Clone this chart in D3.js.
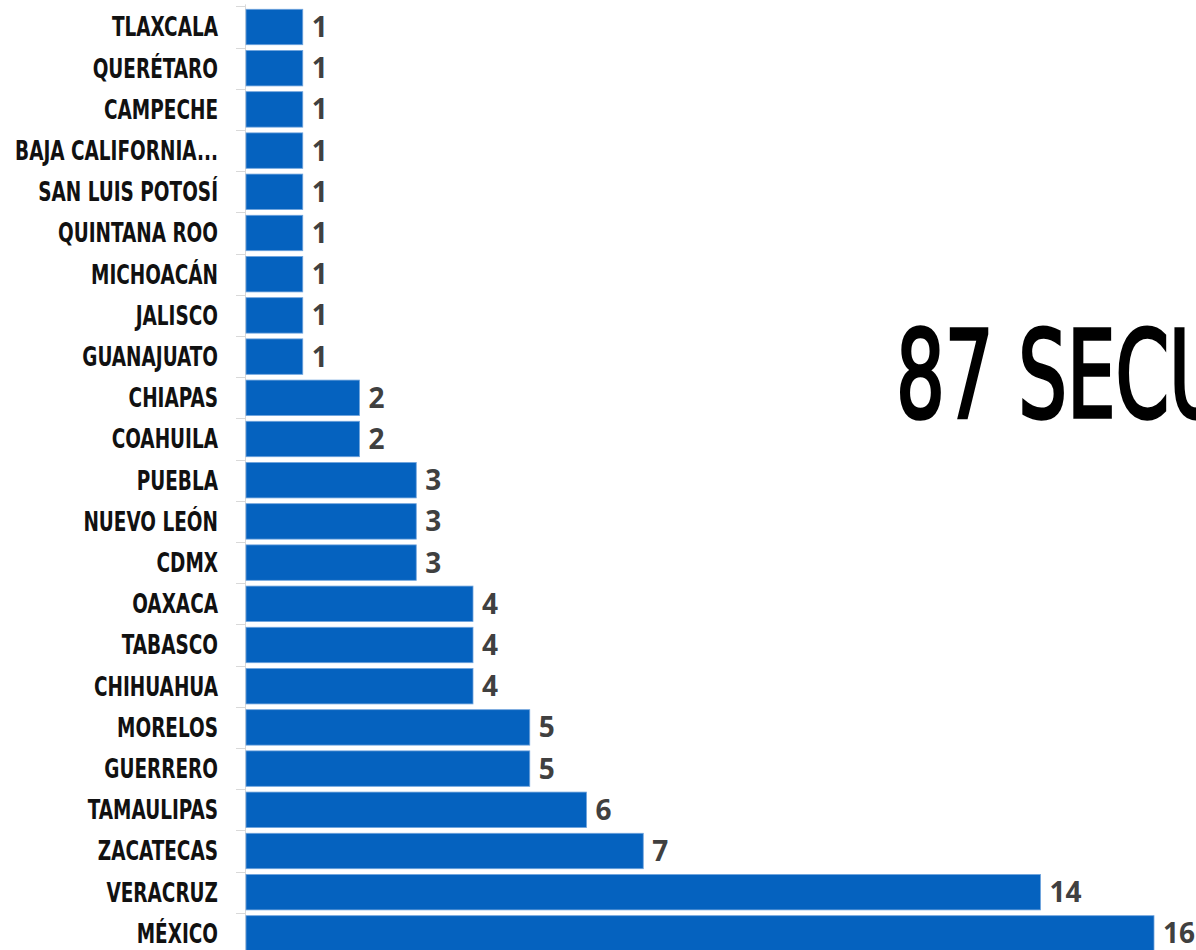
<!DOCTYPE html>
<html>
<head>
<meta charset="utf-8">
<script src="https://cdn.jsdelivr.net/npm/d3@7"></script>
<style>
  html, body { margin: 0; padding: 0; background: #fff; overflow: hidden; }
  svg { display: block; }
  .state { font-family: "DejaVu Sans Condensed", "Liberation Sans Narrow", sans-serif; font-weight: bold; font-size: 26px; fill: #111; }
  .val { font-family: "Open Sans", sans-serif; font-weight: 700; font-size: 28px; fill: #404040; }
  .title { font-family: "DejaVu Sans Condensed", sans-serif; font-size: 122px; fill: #000; stroke: #000; stroke-width: 3.5px; }
</style>
</head>
<body>
<div id="chart"></div>
<script>
// states, top to bottom
var states = [
  'TLAXCALA', 'QUERÉTARO', 'CAMPECHE', 'BAJA CALIFORNIA...', 'SAN LUIS POTOSÍ',
  'QUINTANA ROO', 'MICHOACÁN', 'JALISCO', 'GUANAJUATO', 'CHIAPAS', 'COAHUILA',
  'PUEBLA', 'NUEVO LEÓN', 'CDMX', 'OAXACA', 'TABASCO', 'CHIHUAHUA', 'MORELOS',
  'GUERRERO', 'TAMAULIPAS', 'ZACATECAS', 'VERACRUZ', 'MÉXICO'
];

var kidnappings = [1, 1, 1, 1, 1, 1, 1, 1, 1, 2, 2, 3, 3, 3, 4, 4, 4, 5, 5, 6, 7, 14, 16];

var title = '87 SECUESTROS';

var width = 1196,
    height = 950,
    x0 = 246,
    squeeze = 0.79; // labels are a condensed face

var svg = d3.select('#chart')
  .append('svg')
    .attr('width', width)
    .attr('height', height);

var x = d3.scaleLinear()
  .domain([0, 16])
  .range([x0, x0 + 16 * 56.75]);

var y = d3.scaleBand()
  .domain(states)
  .range([6.4, 954])
  .paddingInner(0.14)
  .paddingOuter(0.07);

// category axis (ticks between bands)
var step = y.step();
svg.append('line')
  .attr('x1', x0 - 0.5).attr('x2', x0 - 0.5)
  .attr('y1', y(states[0]) - step * 0.07 - 2).attr('y2', height)
  .attr('stroke', '#d9d9d9').attr('stroke-width', 1);

svg.selectAll('.tick')
  .data(states)
  .enter().append('line')
    .attr('class', 'tick')
    .attr('x1', x0 - 10).attr('x2', x0)
    .attr('y1', function(d) { return Math.round(y(d) - step * 0.07) + 0.5; })
    .attr('y2', function(d) { return Math.round(y(d) - step * 0.07) + 0.5; })
    .attr('stroke', '#d9d9d9');

svg.selectAll('.bar')
  .data(kidnappings)
  .enter().append('rect')
    .attr('class', 'bar')
    .attr('x', x(0))
    .attr('y', function(d, i) { return y(states[i]); })
    .attr('width', function(d) { return x(d) - x(0); })
    .attr('height', y.bandwidth())
    .attr('fill', '#0562bf')
    .attr('stroke', '#6fa3dc')
    .attr('stroke-width', 0.8);

svg.selectAll('.state')
  .data(states)
  .enter().append('text')
    .attr('class', 'state')
    .attr('transform', function(d) {
      return 'translate(218,' + (y(d) + y.bandwidth() / 2) + ') scale(' + squeeze + ',1)';
    })
    .attr('dy', '0.36em')
    .attr('text-anchor', 'end')
    .text(function(d) { return d; });

svg.selectAll('.val')
  .data(kidnappings)
  .enter().append('text')
    .attr('class', 'val')
    .attr('x', function(d) { return x(d) + 9; })
    .attr('y', function(d, i) { return y(states[i]) + y.bandwidth() / 2; })
    .attr('dy', '0.36em')
    .text(function(d) { return d; });

svg.append('text')
  .attr('class', 'title')
  .attr('transform', 'translate(896,417) scale(0.70,1)')
  .text(title);
</script>
</body>
</html>
